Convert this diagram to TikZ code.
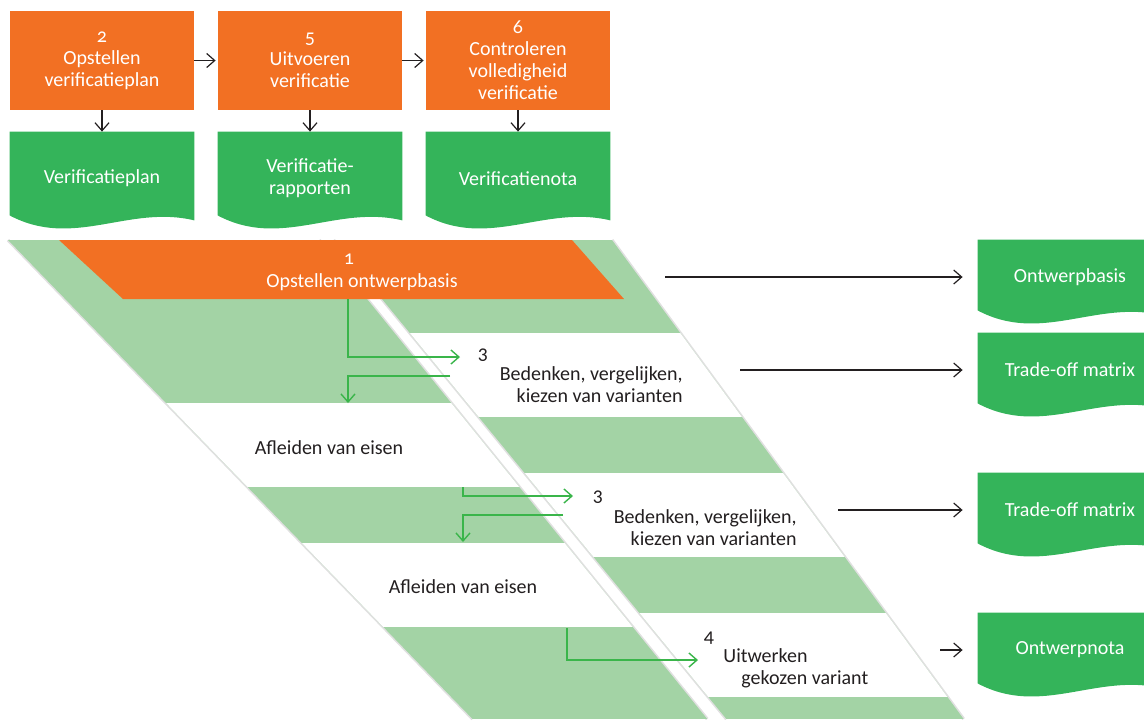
\documentclass[tikz,border=0pt]{standalone}
\usepackage{fontspec}
\setmainfont{Carlito}[Numbers=OldStyle]
\usetikzlibrary{calc, arrows.meta, backgrounds}
\definecolor{taskOrange}{RGB}{242,112,35}
\definecolor{docGreen}{RGB}{52,180,90}
\definecolor{bandGreen}{RGB}{163,211,165}
\definecolor{flowGreen}{RGB}{58,181,74}
\definecolor{labelBlack}{RGB}{35,31,32}
\tikzset{
  task box/.style={fill=taskOrange, text=white, minimum width=92pt, minimum height=49.5pt, inner sep=0pt, align=center, font=\fontsize{10}{11}\selectfont},
  doc box/.style={text=white, inner sep=0pt, align=center, minimum width=92pt, font=\fontsize{10}{11}\selectfont},
  top doc/.style={doc box, minimum height=46.5pt},
  side doc/.style={doc box, minimum height=37pt},
  orange label/.style={text=white, inner sep=0pt, font=\fontsize{10}{11}\selectfont},
  band label/.style={text=labelBlack, inner sep=0pt, font=\fontsize{10}{11}\selectfont},
  band fill/.style={fill=bandGreen},
  edge shadow/.style={black!12, line width=1.6pt},
  flow line/.style={flowGreen, line width=0.7pt, ->},
  output line/.style={labelBlack, line width=0.6pt, ->},
  >={Straight Barb[length=4pt,width=7pt]},
}
\newcommand{\drawDocShape}[2]{
  \fill[docGreen] (#1.north west) -- (#1.north east) -- ($(#1.south east)+(0,5-#2)$)
    .. controls ($(#1.south west)+(119,-11-#2)$) and ($(#1.south west)+(64,34-#2)$) .. ($(#1.south west)+(0,-#2)$) -- cycle;
}

\begin{document}
\begin{tikzpicture}[x=0.5pt, y=-0.5pt]
  \useasboundingbox (0,0) rectangle (1144,720);
  % verification row
  \node[task box] (plan) at (102,60.5) {2\\Opstellen\\verificatieplan};
  \node[task box] (exec) at (310,60.5) {5\\Uitvoeren\\verificatie};
  \node[task box] (check) at (518,60.5) {6\\Controleren\\volledigheid\\verificatie};
  \node[top doc] (vplan) at (102,178.5) {Verificatieplan};
  \node[top doc] (vrap) at (310,178.5) {Verificatie-\\rapporten};
  \node[top doc] (vnota) at (518,178.5) {Verificatienota};
  \draw[output line, shorten >=1pt] (plan) -- (exec);
  \draw[output line, shorten >=1pt] (exec) -- (check);
  \draw[output line] (plan) -- (vplan);
  \draw[output line] (exec) -- (vrap);
  \draw[output line] (check) -- (vnota);

  % documents on the right
  \node[side doc] (basisdoc) at (1070,277) {Ontwerpbasis};
  \node[side doc] (trade1) at (1070,370) {Trade-off matrix};
  \node[side doc] (trade2) at (1070,510) {Trade-off matrix};
  \node[side doc] (nota) at (1070,650) {Ontwerpnota};
  \begin{scope}[on background layer]
    \foreach \d in {vplan,vrap,vnota} {\drawDocShape{\d}{10}}
    \foreach \d in {basisdoc,trade1,trade2,nota} {\drawDocShape{\d}{4}}
  \end{scope}

  % slanted columns
  \draw[edge shadow] (8,240) -- (472.6,719);
  \draw[edge shadow] (319.2,240) -- (707.2,719);
  \draw[edge shadow] (333.6,240) -- (726.4,719);
  \draw[edge shadow] (612,240) -- (963.6,719);
  \begin{scope}
    \clip (333.6,240) -- (612,240) -- (963.6,719) -- (726.4,719) -- cycle;
    \fill[band fill] (300,240) rectangle (1000,719);
    \foreach \y in {333,473,613} \fill[white] (300,\y) rectangle (1000,\y+84);
  \end{scope}
  \begin{scope}
    \clip (8,240) -- (319.2,240) -- (707.2,719) -- (472.6,719) -- cycle;
    \fill[band fill] (0,240) rectangle (720,719);
    \foreach \y in {403,543} \fill[white] (0,\y) rectangle (720,\y+84);
  \end{scope}
  \fill[taskOrange] (59,240) -- (572,240) -- (624,299) -- (123,299) -- cycle;

  % labels
  \node[orange label] (n1) at (349,259) {1};
  \node[orange label] (basis) at (362,282) {Opstellen ontwerpbasis};
  \node[band label] (n3a) at (483,355) {3};
  \node[band label, align=right, anchor=east] (t3a) at (683,385) {Bedenken, vergelijken,\\kiezen van varianten};
  \node[band label] (e1) at (329,448) {Afleiden van eisen};
  \node[band label] (n3b) at (598,497) {3};
  \node[band label, align=right, anchor=east] (t3b) at (797,528) {Bedenken, vergelijken,\\kiezen van varianten};
  \node[band label] (e2) at (463,587) {Afleiden van eisen};
  \node[band label] (n4) at (709,638) {4};
  \node[band label, align=left, anchor=west] (t4) at (723,668) {Uitwerken\\\hspace*{9pt}gekozen variant};

  % green flow between the columns
  \coordinate (o1) at (348,299);
  \coordinate (r1) at (460,357);
  \coordinate (q1) at (450,376);
  \coordinate (d1) at (348,403);
  \coordinate (u2) at (463,487);
  \coordinate (r2) at (573,496);
  \coordinate (q2) at (563,515);
  \coordinate (d2) at (463,542);
  \coordinate (u3) at (567,628);
  \coordinate (r3) at (698,660);
  \draw[flow line] (o1) |- (r1);
  \draw[flow line] (q1) -| (d1);
  \draw[flow line] (u2) |- (r2);
  \draw[flow line] (q2) -| (d2);
  \draw[flow line] (u3) |- (r3);

  % outputs
  \coordinate (w1) at (665,277);
  \coordinate (w2) at (740,370);
  \coordinate (w3) at (838,510);
  \coordinate (w4) at (940,650);
  \draw[output line, shorten >=7.5pt] (w1) -- (basisdoc);
  \draw[output line, shorten >=7.5pt] (w2) -- (trade1);
  \draw[output line, shorten >=7.5pt] (w3) -- (trade2);
  \draw[output line, shorten >=7.5pt] (w4) -- (nota);
\end{tikzpicture}
\end{document}
